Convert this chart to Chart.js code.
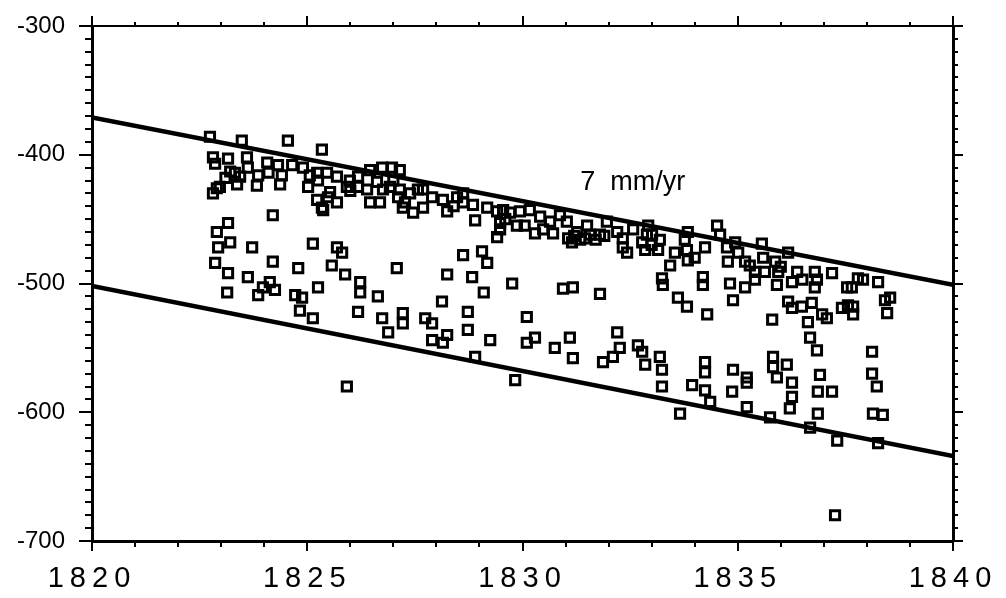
<!DOCTYPE html>
<html><head><meta charset="utf-8">
<script src="https://cdn.jsdelivr.net/npm/chart.js@4.4.1/dist/chart.umd.min.js"></script>
<style>html,body{margin:0;padding:0;background:#fff;}#wrap{width:1006px;height:598px;}</style>
</head><body><div id="wrap"><canvas id="c" width="1006" height="598"></canvas></div>
<script>
// ---- data ----
const xRange = [1820, 1840];
const yRange = [-700, -300];
const xMajorStep = 5;
const yMajorStep = 100;

const obsYears = [
1822.74,1823.48,1824.55,1825.34,1822.81,1822.86,1823.16,1823.32,1823.60,1823.62,
1823.86,1823.83,1823.37,1822.90,1822.81,1824.07,1824.32,1824.65,1824.37,1824.41,
1824.90,1825.06,1825.02,1825.25,1825.23,1825.34,1823.21,1823.44,1822.97,1825.23,
1825.46,1825.69,1825.99,1826.18,1826.46,1826.74,1826.97,1827.15,1825.53,1825.69,
1825.92,1826.39,1826.62,1826.46,1826.69,1826.92,1827.15,1827.39,1827.22,1827.46,
1825.48,1826.18,1826.76,1827.11,1827.27,1827.57,1825.37,1827.69,1827.69,1827.90,
1828.15,1828.25,1828.48,1828.62,1828.62,1828.85,1828.90,1829.18,1829.41,1829.48,
1829.41,1829.55,1829.71,1829.87,1829.94,1830.17,1830.29,1830.41,1830.48,1830.64,
1830.71,1830.87,1831.03,1831.06,1831.15,1831.27,1831.34,1831.50,1831.57,1831.80,
1831.96,1832.20,1832.33,1832.33,1832.43,1832.57,1832.78,1832.89,1829.48,1832.85,
1832.92,1833.01,1833.19,1833.15,1833.43,1833.54,1833.77,1833.84,1833.82,1833.84,
1834.24,1834.52,1834.59,1834.75,1834.77,1835.01,1834.94,1835.17,1835.40,1835.56,
1835.59,1835.63,1835.87,1835.94,1835.91,1836.17,1836.38,1836.26,1835.17,1835.40,
1834.82,1834.89,1834.19,1834.19,1833.24,1833.26,1833.61,1833.82,1834.29,1836.79,
1836.84,1836.79,1837.19,1837.54,1837.79,1837.91,1837.65,1838.26,1838.42,1836.17,
1836.26,1836.49,1836.72,1836.96,1837.56,1837.68,1835.80,1836.63,1837.07,1837.42,
1837.68,1838.54,1838.47,1835.28,1824.20,1823.16,1822.90,1823.21,1822.93,1823.72,
1825.13,1825.69,1825.81,1824.20,1822.86,1823.16,1823.62,1824.13,1824.79,1825.57,
1825.88,1826.23,1827.08,1823.14,1823.86,1824.25,1823.97,1824.72,1824.88,1825.25,
1826.23,1826.64,1824.83,1825.13,1826.18,1826.74,1826.88,1827.22,1827.22,1827.74,
1827.90,1827.90,1828.15,1828.25,1828.13,1828.62,1829.06,1829.18,1828.25,1828.83,
1829.10,1829.76,1830.94,1831.17,1831.80,1828.73,1830.10,1828.73,1829.25,1828.90,
1829.83,1830.10,1830.29,1830.75,1831.10,1831.17,1832.20,1832.26,1832.10,1831.87,
1832.68,1832.78,1832.85,1825.92,1833.19,1833.24,1833.24,1833.66,1833.94,1834.24,
1834.24,1834.24,1834.36,1834.89,1835.21,1835.21,1834.87,1835.21,1835.75,1835.82,
1835.82,1836.14,1835.91,1836.26,1836.26,1836.21,1836.68,1836.84,1836.68,1836.91,
1836.86,1837.19,1836.86,1837.31,1838.12,1838.12,1838.23,1838.14,1838.37,1838.26,
1837.26,1831.20,1831.45,1831.70,1831.90,1830.05,1829.60,1828.40,1827.00,1826.00,
1824.10,1823.10,1836.00,1836.50,1834.00,1833.00
];
const obsLevels = [
-386,-389,-389,-396,-402,-407,-403,-414,-402,-410,
-416,-424,-423,-426,-430,-406,-408,-408,-423,-416,
-410,-416,-425,-420,-435,-441,-413,-417,-425,-414,
-414,-417,-420,-417,-412,-410,-410,-412,-429,-437,
-425,-427,-421,-437,-437,-425,-427,-430,-441,-445,
-433,-425,-427,-433,-437,-427,-443,-427,-441,-433,
-435,-444,-433,-430,-437,-439,-451,-441,-444,-453,
-464,-443,-445,-455,-444,-443,-461,-448,-458,-452,
-461,-447,-452,-465,-468,-460,-466,-455,-462,-462,
-452,-460,-465,-472,-476,-458,-468,-462,-458,-474,
-455,-462,-466,-474,-486,-476,-466,-460,-474,-482,
-472,-455,-462,-472,-483,-476,-468,-483,-491,-469,
-480,-491,-483,-491,-501,-476,-491,-499,-503,-497,
-500,-513,-495,-501,-496,-501,-511,-518,-524,-491,
-497,-503,-492,-503,-496,-497,-503,-499,-513,-514,
-519,-518,-515,-524,-517,-518,-528,-530,-527,-519,
-524,-511,-523,-486,-447,-453,-460,-468,-472,-472,
-469,-472,-476,-483,-484,-492,-495,-499,-488,-486,
-493,-499,-488,-507,-509,-505,-503,-509,-511,-503,
-507,-510,-521,-527,-522,-527,-538,-523,-531,-527,
-531,-544,-546,-540,-514,-478,-475,-484,-493,-495,
-507,-500,-504,-503,-508,-522,-526,-536,-544,-557,
-575,-546,-542,-550,-542,-558,-538,-550,-557,-561,
-548,-553,-563,-580,-557,-567,-580,-601,-579,-561,
-569,-583,-592,-567,-573,-577,-584,-596,-604,-557,
-565,-563,-573,-577,-588,-597,-542,-552,-612,-571,
-584,-584,-601,-622,-553,-570,-580,-601,-602,-624,
-680,-463,-465,-466,-463,-455,-450,-440,-420,-428,
-414,-418,-487,-497,-480,-470
];
const upperLineYears = [1820, 1840];
const upperLineLevels = [-371, -501];
const lowerLineYears = [1820, 1840];
const lowerLineLevels = [-502, -634];
const rateLabel = '7  mm/yr';
const rateLabelYear = 1831.34;
const rateLabelLevel = -427;

// ---- chart ----
const pts = (xs, ys) => xs.map((x, i) => ({x: x, y: ys[i]}));
const FONT = '"Liberation Sans", Arial, Helvetica, sans-serif';

const tickMarks = {
  id: 'tickMarks',
  beforeDraw(chart) {
    const s = chart.scales.x;
    if (s && !s.__ls) {
      const orig = s.drawLabels;
      s.drawLabels = function (ca) {
        this.ctx.save();
        try { this.ctx.letterSpacing = '6px'; } catch (e) {}
        orig.call(this, ca);
        this.ctx.restore();
      };
      s.__ls = true;
    }
  },
  afterDraw(chart) {
    const {ctx, chartArea: a, scales: {x, y}} = chart;
    ctx.save();
    ctx.strokeStyle = '#000';
    ctx.lineWidth = 2;
    ctx.beginPath();
    for (let v = xRange[0]; v <= xRange[1]; v += 1) {
      const px = Math.round(x.getPixelForValue(v));
      const major = (v % xMajorStep === 0);
      ctx.moveTo(px, a.bottom); ctx.lineTo(px, a.bottom + (major ? 10 : 6));
      ctx.moveTo(px, a.top); ctx.lineTo(px, a.top - (major ? 10 : 4));
    }
    for (let v = yRange[0]; v <= yRange[1]; v += 10) {
      const py = Math.round(y.getPixelForValue(v));
      const major = (v % yMajorStep === 0);
      ctx.moveTo(a.left, py); ctx.lineTo(a.left - (major ? 13 : 7), py);
      ctx.moveTo(a.right, py); ctx.lineTo(a.right + (major ? 10 : 5), py);
    }
    ctx.stroke();
    ctx.restore();
  },
  afterDatasetsDraw(chart) {
    const {ctx, scales: {x, y}} = chart;
    ctx.save();
    ctx.fillStyle = '#000';
    ctx.font = '27px ' + FONT;
    ctx.textAlign = 'left';
    ctx.textBaseline = 'alphabetic';
    ctx.fillText(rateLabel, x.getPixelForValue(rateLabelYear), y.getPixelForValue(rateLabelLevel));
    ctx.restore();
  }
};

new Chart(document.getElementById('c'), {
  type: 'scatter',
  data: {
    datasets: [
      {
        label: 'observations',
        data: pts(obsYears, obsLevels),
        pointStyle: 'rect',
        pointRadius: 6.5,
        pointBorderWidth: 3,
        pointBorderColor: '#000',
        pointBackgroundColor: 'rgba(255,255,255,0)',
        showLine: false
      },
      {
        label: 'upper',
        data: pts(upperLineYears, upperLineLevels),
        showLine: true,
        borderColor: '#000',
        borderWidth: 4.5,
        pointRadius: 0,
        fill: false
      },
      {
        label: 'lower',
        data: pts(lowerLineYears, lowerLineLevels),
        showLine: true,
        borderColor: '#000',
        borderWidth: 4.5,
        pointRadius: 0,
        fill: false
      }
    ]
  },
  options: {
    responsive: false,
    animation: false,
    events: [],
    layout: {padding: {top: 26, right: 53, bottom: 0, left: 0}},
    plugins: {legend: {display: false}, tooltip: {enabled: false}},
    scales: {
      x: {
        type: 'linear', position: 'bottom',
        min: xRange[0], max: xRange[1],
        afterFit(s) { s.height = 57; s.paddingLeft = 0; s.paddingRight = 0; },
        ticks: {stepSize: xMajorStep, color: '#000', font: {size: 29, family: FONT}, padding: 21,
                maxRotation: 0, autoSkip: false, callback: v => String(v)},
        grid: {display: false, drawTicks: false},
        border: {display: true, color: '#000', width: 3}
      },
      x2: {
        type: 'linear', position: 'top', axis: 'x',
        min: xRange[0], max: xRange[1],
        afterFit(s) { s.height = 0; },
        ticks: {display: false},
        grid: {display: false, drawTicks: false},
        border: {display: true, color: '#000', width: 2}
      },
      y: {
        type: 'linear', position: 'left',
        min: yRange[0], max: yRange[1],
        afterFit(s) { s.width = 92; s.paddingTop = 0; s.paddingBottom = 0; },
        ticks: {stepSize: yMajorStep, color: '#000', font: {size: 24, family: FONT}, padding: 27,
                callback: v => String(v)},
        grid: {display: false, drawTicks: false},
        border: {display: true, color: '#000', width: 3}
      },
      y2: {
        type: 'linear', position: 'right', axis: 'y',
        min: yRange[0], max: yRange[1],
        afterFit(s) { s.width = 0; },
        ticks: {display: false},
        grid: {display: false, drawTicks: false},
        border: {display: true, color: '#000', width: 3}
      }
    }
  },
  plugins: [tickMarks]
});
</script>
</body></html>
